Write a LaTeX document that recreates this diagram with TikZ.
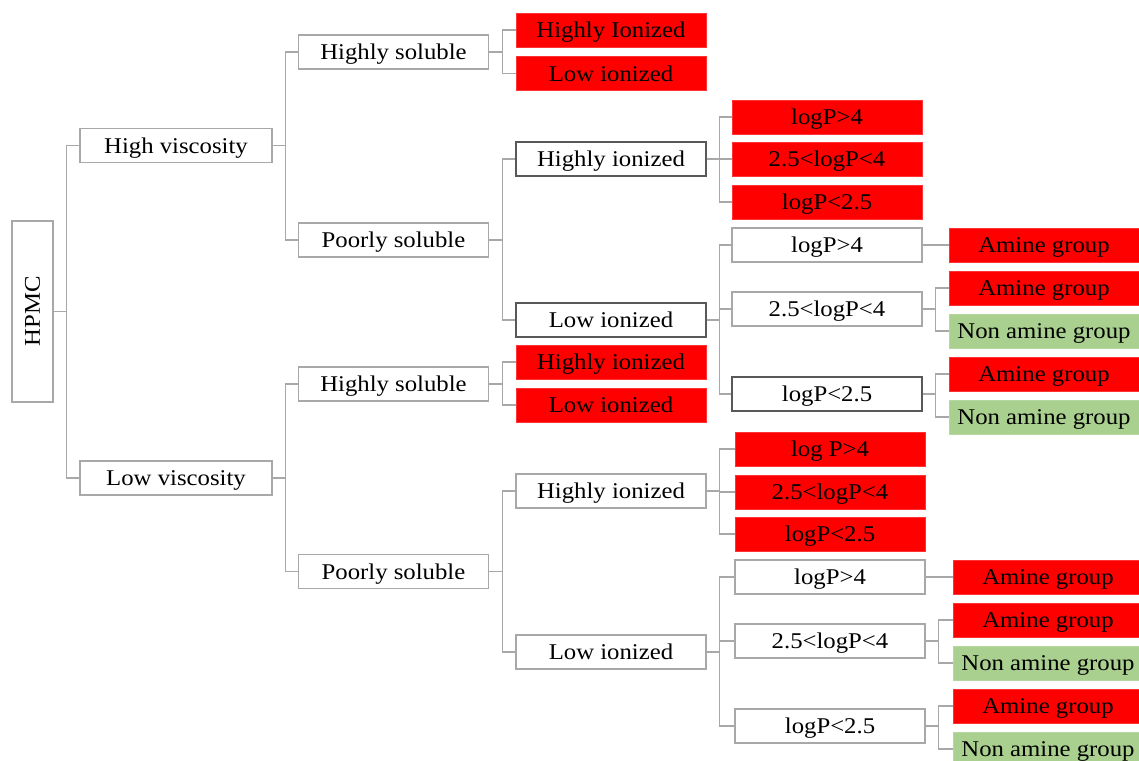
\documentclass[tikz,border=0pt]{standalone}
\usepackage{fontspec,graphicx}
\setmainfont{Liberation Serif}[FakeStretch=1.1]
\definecolor{boxgray}{RGB}{168,168,168}
\definecolor{boxdark}{RGB}{88,88,88}
\definecolor{amgreen}{RGB}{169,208,142}

\begin{document}
\begin{tikzpicture}
  [x=1pt,y=-1pt,every node/.style={rectangle,draw=boxgray,line width=1.4pt,
     minimum width=190,minimum height=34,inner sep=0pt,text depth=0pt,
     font=\fontsize{22.5}{26}\selectfont},
   redbox/.style={fill=red,draw=red!80!white,line width=0.6pt},
   greenbox/.style={fill=amgreen,draw=amgreen!85!white,line width=0.6pt},
   darkbox/.style={draw=boxdark},
   conn/.style={draw=boxgray,line width=1.4pt}]
  \clip (0,0) rectangle (1139,760);
  \node[minimum width=41,minimum height=181] (hpmc) at (32.5,311.5) {\rotatebox{90}{HPMC}};
  \node[minimum width=192] (highvisc) at (176,145.5) {High viscosity};
  \node[minimum width=192] (lowvisc) at (176,478) {Low viscosity};
  \node (hsol1) at (393.5,52) {Highly soluble};
  \node (psol1) at (393.5,240) {Poorly soluble};
  \node (hsol2) at (393.5,384) {Highly soluble};
  \node (psol2) at (393.5,571.5) {Poorly soluble};
  % High viscosity side
  \node[redbox] (hs1_hi) at (611,30) {Highly Ionized};
  \node[redbox] (hs1_li) at (611,73.5) {Low ionized};
  \node[darkbox] (ps1_hi) at (611,159) {Highly ionized};
  \node[darkbox] (ps1_li) at (611,320) {Low ionized};
  \node[redbox] (ps1_hi_a) at (827,117) {logP>4};
  \node[redbox] (ps1_hi_b) at (827,159) {2.5<logP<4};
  \node[redbox] (ps1_hi_c) at (827,202) {logP<2.5};
  \node (ps1_li_a) at (827,245) {logP>4};
  \node (ps1_li_b) at (827,309) {2.5<logP<4};
  \node[darkbox] (ps1_li_c) at (827,394) {logP<2.5};
  \node[redbox] (li1_a_am) at (1044,245) {Amine group};
  \node[redbox] (li1_b_am) at (1044,288) {Amine group};
  \node[greenbox] (li1_b_non) at (1044,331) {Non amine group};
  \node[redbox] (li1_c_am) at (1044,374) {Amine group};
  \node[greenbox] (li1_c_non) at (1044,417) {Non amine group};
  % Low viscosity side
  \node[redbox] (hs2_hi) at (611,362) {Highly ionized};
  \node[redbox] (hs2_li) at (611,405) {Low ionized};
  \node (ps2_hi) at (611,491) {Highly ionized};
  \node (ps2_li) at (611,652) {Low ionized};
  \node[redbox] (ps2_hi_a) at (830,449) {log P>4};
  \node[redbox] (ps2_hi_b) at (830,492) {2.5<logP<4};
  \node[redbox] (ps2_hi_c) at (830,534) {logP<2.5};
  \node (ps2_li_a) at (830,577) {logP>4};
  \node (ps2_li_b) at (830,641) {2.5<logP<4};
  \node (ps2_li_c) at (830,726) {logP<2.5};
  \node[redbox] (li2_a_am) at (1048,577) {Amine group};
  \node[redbox] (li2_b_am) at (1048,620) {Amine group};
  \node[greenbox] (li2_b_non) at (1048,663) {Non amine group};
  \node[redbox] (li2_c_am) at (1048,706) {Amine group};
  \node[greenbox] (li2_c_non) at (1048,749) {Non amine group};

  \foreach \from/\to in {hpmc/highvisc,hpmc/lowvisc,
              highvisc/hsol1,highvisc/psol1,lowvisc/hsol2,lowvisc/psol2,
              hsol1/hs1_hi,hsol1/hs1_li,psol1/ps1_hi,psol1/ps1_li,
              hsol2/hs2_hi,hsol2/hs2_li,psol2/ps2_hi,psol2/ps2_li,
              ps1_hi/ps1_hi_a,ps1_hi/ps1_hi_b,ps1_hi/ps1_hi_c,
              ps1_li/ps1_li_a,ps1_li/ps1_li_b,ps1_li/ps1_li_c,
              ps2_hi/ps2_hi_a,ps2_hi/ps2_hi_b,ps2_hi/ps2_hi_c,
              ps2_li/ps2_li_a,ps2_li/ps2_li_b,ps2_li/ps2_li_c,
              ps1_li_a/li1_a_am,ps1_li_b/li1_b_am,ps1_li_b/li1_b_non,
              ps1_li_c/li1_c_am,ps1_li_c/li1_c_non,
              ps2_li_a/li2_a_am,ps2_li_b/li2_b_am,ps2_li_b/li2_b_non,
              ps2_li_c/li2_c_am,ps2_li_c/li2_c_non}
    \draw[conn] (\from.east) -- ++(13,0) |- (\to.west);

\end{tikzpicture}
\end{document}
